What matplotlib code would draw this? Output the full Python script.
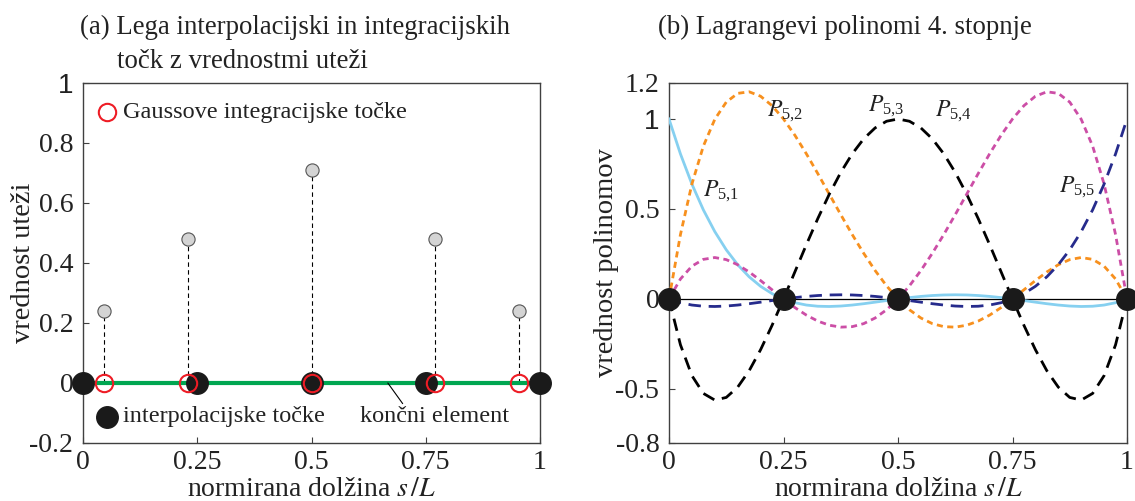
import matplotlib
matplotlib.use("Agg")
import matplotlib.pyplot as plt
from matplotlib.font_manager import FontProperties
import numpy as np

plt.rcParams["font.family"] = ["Liberation Serif", "DejaVu Serif"]
plt.rcParams["mathtext.fontset"] = "stix"

# (a) integration / interpolation points and weights
gauss_x = [0.0469, 0.2308, 0.5, 0.7692, 0.9531]
weights = [0.24, 0.48, 0.71, 0.48, 0.24]
nodes = [0.0, 0.25, 0.5, 0.75, 1.0]
xticks = [0, 0.25, 0.5, 0.75, 1]
xtick_labels = ["0", "0.25", "0.5", "0.75", "1"]
yticks_a = [-0.2, 0, 0.2, 0.4, 0.6, 0.8, 1]
ytick_labels_a = ["-0.2", "0", "0.2", "0.4", "0.6", "0.8", "1"]

# (b) Lagrange polynomials sampled along s/L (41 samples, step 0.025)
s = np.linspace(0.0, 1.0, 41)
p51 = [1.0, 0.8058, 0.6384, 0.4953, 0.3744, 0.2734, 0.1904, 0.1233, 0.0704, 0.0298, 0.0,
       -0.0207, -0.0336, -0.0402, -0.0416, -0.0391, -0.0336, -0.0262, -0.0176, -0.0087, 0.0,
       0.0078, 0.0144, 0.0193, 0.0224, 0.0234, 0.0224, 0.0193, 0.0144, 0.0078, 0.0,
       -0.0087, -0.0176, -0.0262, -0.0336, -0.0391, -0.0416, -0.0402, -0.0336, -0.0207, 0.0]
p52 = [0.0, 0.3582, 0.6384, 0.8492, 0.9984, 1.0938, 1.1424, 1.1512, 1.1264, 1.0742, 1.0,
       0.9092, 0.8064, 0.6962, 0.5824, 0.4688, 0.3584, 0.2542, 0.1584, 0.0732, 0.0,
       -0.0599, -0.1056, -0.1369, -0.1536, -0.1563, -0.1456, -0.1229, -0.0896, -0.0479, 0.0,
       0.0512, 0.1024, 0.1502, 0.1904, 0.2188, 0.2304, 0.2202, 0.1824, 0.1112, 0.0]
p53 = [0.0, -0.2545, -0.4256, -0.5245, -0.5616, -0.5469, -0.4896, -0.3985, -0.2816, -0.1465, 0.0,
       0.1515, 0.3024, 0.4475, 0.5824, 0.7031, 0.8064, 0.8895, 0.9504, 0.9875, 1.0,
       0.9875, 0.9504, 0.8895, 0.8064, 0.7031, 0.5824, 0.4475, 0.3024, 0.1515, 0.0,
       -0.1465, -0.2816, -0.3985, -0.4896, -0.5469, -0.5616, -0.5245, -0.4256, -0.2545, 0.0]
p54 = [0.0, 0.1112, 0.1824, 0.2202, 0.2304, 0.2188, 0.1904, 0.1502, 0.1024, 0.0512, 0.0,
       -0.0479, -0.0896, -0.1229, -0.1456, -0.1563, -0.1536, -0.1369, -0.1056, -0.0599, 0.0,
       0.0732, 0.1584, 0.2542, 0.3584, 0.4688, 0.5824, 0.6962, 0.8064, 0.9092, 1.0,
       1.0742, 1.1264, 1.1512, 1.1424, 1.0938, 0.9984, 0.8492, 0.6384, 0.3582, 0.0]
p55 = [0.0, -0.0207, -0.0336, -0.0402, -0.0416, -0.0391, -0.0336, -0.0262, -0.0176, -0.0087, 0.0,
       0.0078, 0.0144, 0.0193, 0.0224, 0.0234, 0.0224, 0.0193, 0.0144, 0.0078, 0.0,
       -0.0087, -0.0176, -0.0262, -0.0336, -0.0391, -0.0416, -0.0402, -0.0336, -0.0207, 0.0,
       0.0298, 0.0704, 0.1233, 0.1904, 0.2734, 0.3744, 0.4953, 0.6384, 0.8058, 1.0]
yticks_b = [-0.8, -0.5, 0, 0.5, 1, 1.2]
ytick_labels_b = ["-0.8", "-0.5", "0", "0.5", "1", "1.2"]

FS = 20
W, H = 1135, 501
fig = plt.figure(figsize=(W / 100, H / 100), dpi=100)
ax1 = fig.add_axes([83 / W, 58 / H, 457 / W, 360 / H])
ax2 = fig.add_axes([669 / W, 58 / H, 458 / W, 360 / H])

serif_fp = FontProperties(family=["Liberation Serif"], size=FS)
sans_fp = FontProperties(family=["Liberation Sans"], size=FS)

for ax in (ax1, ax2):
    for sp in ax.spines.values():
        sp.set_color("#404040")
        sp.set_linewidth(1.0)
    ax.tick_params(direction="in", length=4, width=0.8, labelsize=FS,
                   top=False, right=False, pad=7, colors="#404040",
                   labelcolor="#222222")
    ax.tick_params(axis="x", pad=5)
    ax.set_xticks(xticks)
    ax.set_xticklabels(xtick_labels)
    ax.set_xlim(0, 1)
    ax.set_xlabel(r"normirana dolžina $s\,/L$", fontsize=FS, color="#222222")
    ax.xaxis.set_label_coords(0.5, -0.095)

# ---- (a)
ax1.set_ylim(-0.2, 1.0)
ax1.set_yticks(yticks_a)
ax1.set_yticklabels(ytick_labels_a)
ax1.set_ylabel("vrednost uteži", fontsize=20.5, labelpad=-5, color="#222222")

for gx, w in zip(gauss_x, weights):
    ax1.plot([gx, gx], [0, w], color="black", lw=0.8, dashes=(4, 3), zorder=2)
ax1.plot([0, 1], [0, 0], color="#00a651", lw=3, zorder=3, solid_capstyle="butt")
ax1.plot(gauss_x, weights, "o", ms=9.5, mfc="#d4d4d4", mec="#555555", mew=0.8,
         zorder=4)
ax1.plot(nodes, [0] * len(nodes), "o", ms=15.5, color="#1a1a1a", zorder=5,
         clip_on=False)
ax1.plot(gauss_x, [0] * len(gauss_x), "o", ms=12.5, mfc="none", mec="#ee1c25",
         mew=1.5, zorder=6, clip_on=False)

# in-axes legend entries
LFS = 17.5
ax1.plot([0.053], [0.903], "o", ms=12.5, mfc="none", mec="#ee1c25", mew=1.5)
ax1.text(0.088, 0.903, "Gaussove integracijske točke", fontsize=LFS,
         va="center", ha="left", color="#222222")
ax1.plot([0.052], [-0.113], "o", ms=15.5, color="#1a1a1a")
ax1.text(0.088, -0.113, "interpolacijske točke", fontsize=LFS,
         va="center", ha="left", color="#222222")
ax1.annotate("končni element", xy=(0.667, 0), xytext=(0.606, -0.113),
             fontsize=LFS, va="center", ha="left", color="#222222",
             arrowprops=dict(arrowstyle="-", color="black", lw=0.8,
                             shrinkA=0, shrinkB=0,
                             relpos=(0.3, 1.0)))

# ---- (b)
ax2.set_ylim(-0.8, 1.2)
ax2.set_yticks(yticks_b)
ax2.set_yticklabels(ytick_labels_b)
ax2.set_ylabel("vrednost polinomov", fontsize=20.5, labelpad=-2.5,
               color="#222222")
ax2.axhline(0, color="black", lw=0.9, zorder=1)

ax2.plot(s, p51, color="#86d0f0", lw=2.0, zorder=3)
ax2.plot(s, p52, color="#f7901e", lw=2.0, dashes=(2.2, 1.6), zorder=3)
ax2.plot(s, p53, color="black", lw=2.0, dashes=(4.5, 2.8), zorder=3)
ax2.plot(s, p54, color="#cc4ea6", lw=2.0, dashes=(2.2, 1.6), zorder=3)
ax2.plot(s, p55, color="#262b8c", lw=2.0, dashes=(4.5, 2.8), zorder=3)
ax2.plot(nodes, [0] * len(nodes), "o", ms=15.5, color="#1a1a1a", zorder=5,
         clip_on=False)

plabels = [(0.074, 0.60, r"$P_{\mathregular{5{,}1}}$"),
           (0.213, 1.04, r"$P_{\mathregular{5{,}2}}$"),
           (0.434, 1.07, r"$P_{\mathregular{5{,}3}}$"),
           (0.580, 1.04, r"$P_{\mathregular{5{,}4}}$"),
           (0.852, 0.62, r"$P_{\mathregular{5{,}5}}$")]
for px, py, lab in plabels:
    ax2.text(px, py, lab, fontsize=17, ha="left", va="center", color="#222222",
             zorder=6)

# tick label faces: serif, except the "1" labels which are sans in the reference
for ax in (ax1, ax2):
    for lab in ax.get_xticklabels():
        lab.set_fontproperties(serif_fp.copy())
    for lab in ax.get_yticklabels():
        if lab.get_text() == "1":
            lab.set_fontproperties(sans_fp.copy())
        else:
            lab.set_fontproperties(serif_fp.copy())

# titles
TFS = 19.3
fig.text(80 / W, 1 - 27 / H, "(a) Lega interpolacijski in integracijskih",
         fontsize=TFS, ha="left", va="center", color="#222222")
fig.text(117 / W, 1 - 62 / H, "točk z vrednostmi uteži",
         fontsize=TFS, ha="left", va="center", color="#222222")
fig.text(845 / W, 1 - 27 / H, "(b) Lagrangevi polinomi 4. stopnje",
         fontsize=TFS, ha="center", va="center", color="#222222")

fig.savefig("out.png", dpi=100)
